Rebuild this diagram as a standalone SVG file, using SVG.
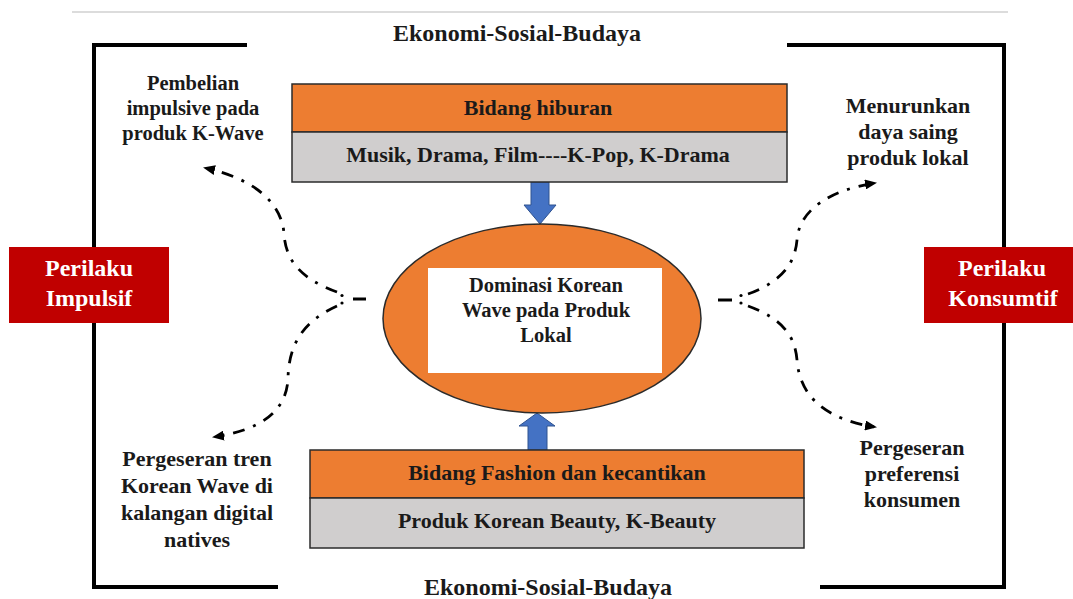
<svg xmlns="http://www.w3.org/2000/svg" width="1073" height="599" viewBox="0 0 1073 599">
<style>
text{font-family:"Liberation Serif","Times New Roman",serif;font-weight:bold;fill:#1a1a1a;text-anchor:middle}
.t22{font-size:22px}
.t21{font-size:21px}
.t20{font-size:20.5px}
.title{font-size:24px}
.white{fill:#ffffff;font-size:24px}
.frame{fill:none;stroke:#000;stroke-width:4}
.orange{fill:#ED7D31;stroke:#2b2b2b;stroke-width:1.5}
.gray{fill:#D0CECE;stroke:#2b2b2b;stroke-width:1.5}
.red{fill:#C00000}
.blue{fill:#4472C4;stroke:#2F528F;stroke-width:1}
.dd{fill:none;stroke:#000;stroke-width:2.8;stroke-dasharray:12 9 3 9}
</style>
<defs>
<marker id="ah" viewBox="0 0 12 10" refX="10" refY="5" markerWidth="12" markerHeight="10" markerUnits="userSpaceOnUse" orient="auto">
<path d="M0,0 L12,5 L0,10 z" fill="#000"/>
</marker>
</defs>
<rect width="1073" height="599" fill="#ffffff"/>
<line x1="72" y1="12" x2="1008" y2="12" stroke="#d0d0d0" stroke-width="1.5"/>

<g id="frame">
<path class="frame" d="M247,45 H94 V587 H278"/>
<path class="frame" d="M787,45 H1004 V587 H820"/>
<text class="title" x="517" y="41">Ekonomi-Sosial-Budaya</text>
<text class="title" x="548" y="595">Ekonomi-Sosial-Budaya</text>
</g>

<g id="connectors">
<polygon class="blue" points="531,182 549,182 549,205 556,205 540,224 524,205 531,205"/>
<polygon class="blue" points="528,450 547,450 547,426 555,426 537,413 519,426 528,426"/>
<line x1="366" y1="299" x2="353" y2="299" stroke="#000" stroke-width="3"/>
<circle cx="342" cy="295.5" r="1.6" fill="#000"/>
<circle cx="342" cy="303" r="1.6" fill="#000"/>
<path class="dd" d="M337,292 C302,279 286,262 284,234 C282,202 252,178 205,168" marker-end="url(#ah)"/>
<path class="dd" d="M337,306 C302,322 289,345 288,378 C287,410 262,430 214,437" marker-end="url(#ah)"/>
<line x1="718" y1="300" x2="732" y2="300" stroke="#000" stroke-width="3"/>
<circle cx="741" cy="295.5" r="1.6" fill="#000"/>
<circle cx="741" cy="303" r="1.6" fill="#000"/>
<path class="dd" d="M748,294 C781,282 795,264 797,240 C799,210 830,190 875,183" marker-end="url(#ah)"/>
<path class="dd" d="M748,306 C781,318 795,335 797,360 C800,400 830,420 875,427" marker-end="url(#ah)"/>
</g>

<g id="hiburan">
<rect class="orange" x="292" y="84" width="495" height="48"/>
<rect class="gray" x="292" y="132" width="495" height="50"/>
<text class="t22" x="538" y="115">Bidang hiburan</text>
<text class="t22" x="538" y="162">Musik, Drama, Film----K-Pop, K-Drama</text>
</g>

<g id="fashion">
<rect class="orange" x="310" y="450" width="494" height="48"/>
<rect class="gray" x="310" y="498" width="494" height="50"/>
<text class="t22" x="557" y="480">Bidang Fashion dan kecantikan</text>
<text class="t22" x="557" y="528">Produk Korean Beauty, K-Beauty</text>
</g>

<g id="dominasi">
<ellipse cx="542" cy="318.5" rx="159" ry="94.5" fill="#ED7D31" stroke="#2b2b2b" stroke-width="1.5"/>
<rect x="428" y="268" width="234" height="105" fill="#ffffff"/>
<text class="t20" x="546" y="292">Dominasi Korean</text>
<text class="t20" x="546" y="317">Wave pada Produk</text>
<text class="t20" x="546" y="342">Lokal</text>
</g>

<g id="impulsif">
<rect class="red" x="9" y="247" width="160" height="76"/>
<text class="white" x="89" y="276">Perilaku</text>
<text class="white" x="89" y="306">Impulsif</text>
</g>

<g id="konsumtif">
<rect class="red" x="924" y="247" width="149" height="76"/>
<text class="white" x="1002" y="276">Perilaku</text>
<text class="white" x="1003" y="306">Konsumtif</text>
</g>

<g id="pembelian">
<text class="t20" x="193" y="90">Pembelian</text>
<text class="t20" x="193" y="115">impulsive pada</text>
<text class="t20" x="193" y="140">produk K-Wave</text>
</g>

<g id="pergeseran-tren">
<text class="t22" x="197" y="466">Pergeseran tren</text>
<text class="t22" x="197" y="493">Korean Wave di</text>
<text class="t22" x="197" y="520">kalangan digital</text>
<text class="t22" x="197" y="547">natives</text>
</g>

<g id="menurunkan">
<text class="t22" x="908" y="113">Menurunkan</text>
<text class="t22" x="908" y="139">daya saing</text>
<text class="t22" x="908" y="165">produk lokal</text>
</g>

<g id="pergeseran-preferensi">
<text class="t22" x="912" y="455">Pergeseran</text>
<text class="t22" x="912" y="481">preferensi</text>
<text class="t22" x="912" y="507">konsumen</text>
</g>
</svg>
